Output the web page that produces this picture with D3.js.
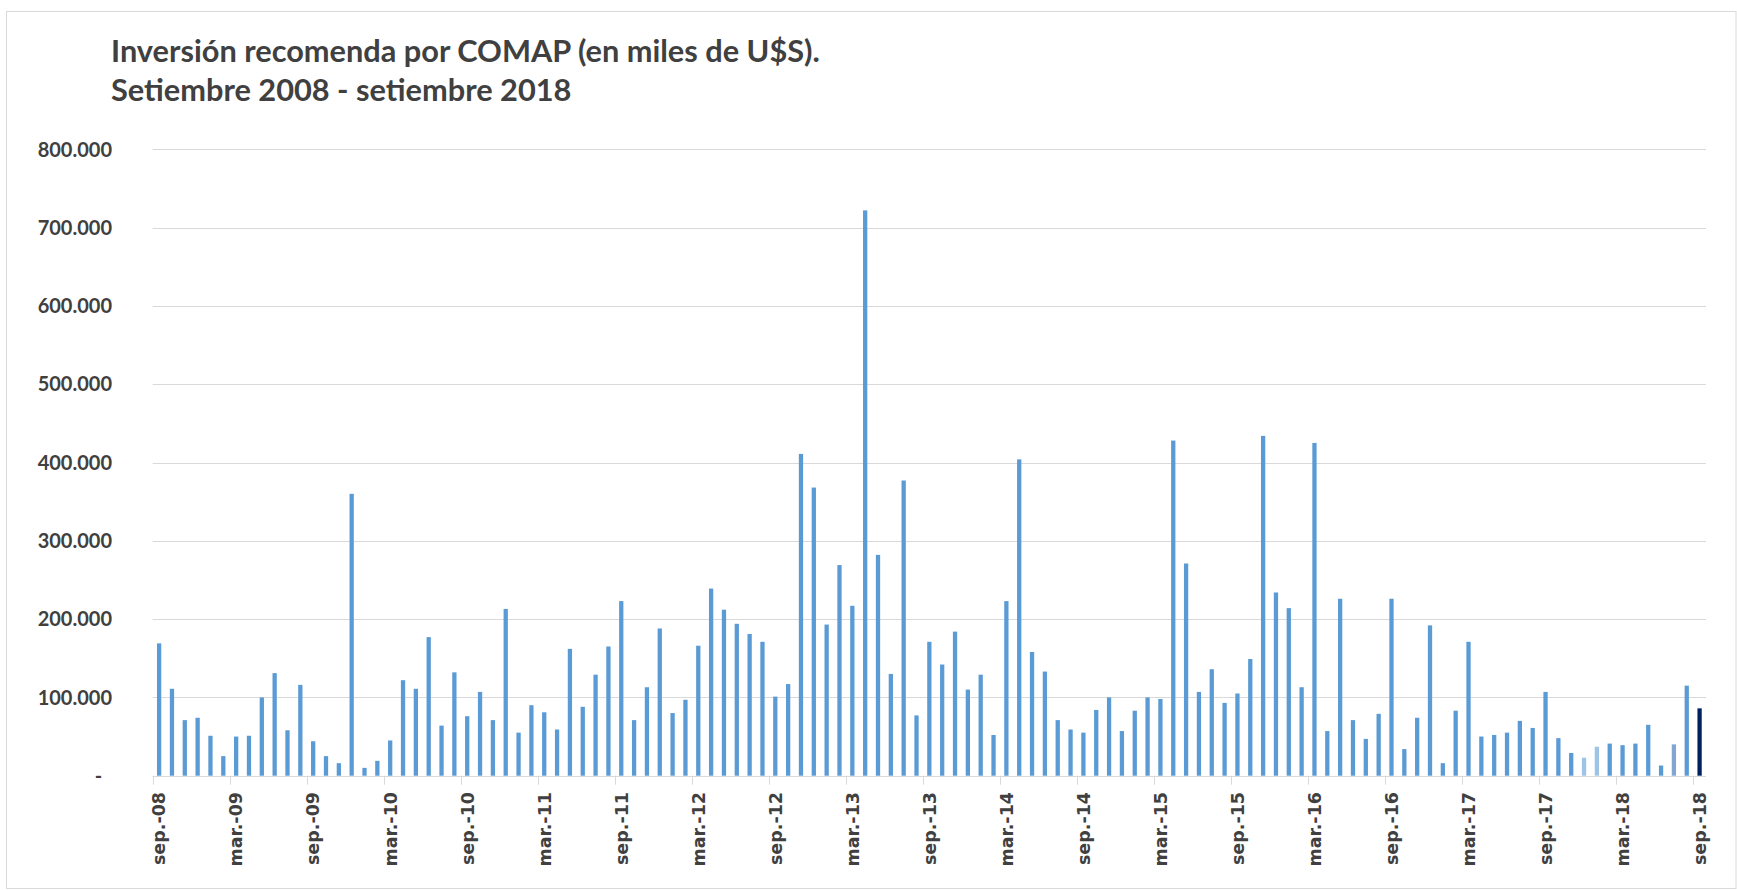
<!DOCTYPE html>
<meta charset="utf-8">

<style>
    body {
        margin: 0;
        background: #fff;
    }
    .grid line {
        stroke: #d9d9d9;
        stroke-width: 1px;
    }
    .title {
        font-family: Lato, "Open Sans", sans-serif;
        font-weight: bold;
        fill: #404040;
    }
    .ylab {
        font: bold 20px Lato, sans-serif;
        fill: #404040;
    }
    .xlab {
        font: bold 17.5px "DejaVu Sans", sans-serif;
        fill: #404040;
    }
</style>

<body>
<script src="https://cdn.jsdelivr.net/npm/d3@7"></script>
<script>

    // monthly values, sep-08 .. sep-18 (miles de U$S)
    var valores = [
        169000, 111000, 71000, 74000, 51000, 25000, 50000, 51000, 100000, 131000, 58000, 116000,
        44000, 25000, 16000, 360000, 10000, 19000, 45000, 122000, 111000, 177000, 64000, 132000,
        76000, 107000, 71000, 213000, 55000, 90000, 81000, 59000, 162000, 88000, 129000, 165000,
        223000, 71000, 113000, 188000, 80000, 97000, 166000, 239000, 212000, 194000, 181000, 171000,
        101000, 117000, 411000, 368000, 193000, 269000, 217000, 722000, 282000, 130000, 377000, 77000,
        171000, 142000, 184000, 110000, 129000, 52000, 223000, 404000, 158000, 133000, 71000, 59000,
        55000, 84000, 100000, 57000, 83000, 100000, 98000, 428000, 271000, 107000, 136000, 93000,
        105000, 149000, 434000, 234000, 214000, 113000, 425000, 57000, 226000, 71000, 47000, 79000,
        226000, 34000, 74000, 192000, 16000, 83000, 171000, 50000, 52000, 55000, 70000, 61000,
        107000, 48000, 29000, 23000, 37000, 41000, 39000, 41000, 65000, 13000, 40000, 115000,
        86000
    ];

    var meses = ["ene.", "feb.", "mar.", "abr.", "may.", "jun.", "jul.", "ago.", "sep.", "oct.", "nov.", "dic."];
    var yTicks = [0, 100000, 200000, 300000, 400000, 500000, 600000, 700000, 800000];
    var titulo = ["Inversión recomenda por COMAP (en miles de U$S).", "Setiembre 2008 - setiembre 2018"];

    // bars with a different fill (by index)
    var colorEspecial = {111: "#9dc3e6", 112: "#9dc3e6", 118: "#82a6cf", 120: "#002060"};

    // category labels: sep.-08, oct.-08 ...
    var categorias = valores.map(function(d, i) {
        var m = (8 + i) % 12;
        var a = 8 + Math.floor((8 + i) / 12);
        return meses[m] + "-" + (a < 10 ? "0" + a : a);
    });

    var W = 1737, H = 890;
    var plot = {left: 152.7, right: 1706, top: 149.3, bottom: 775.7};

    var svg = d3.select("body").append("svg")
        .attr("width", W)
        .attr("height", H);

    svg.append("rect")
        .attr("x", 6.5).attr("y", 11.5)
        .attr("width", W - 7.5).attr("height", H - 13)
        .attr("fill", "#fff")
        .attr("stroke", "#d9d9d9");

    // title, sized to match the original width
    var t1 = svg.append("text").attr("class", "title")
        .attr("x", 111).attr("y", 62)
        .style("font-size", "28px")
        .text(titulo[0]);
    var k = 709 / t1.node().getComputedTextLength();
    var fs = 28 * k;
    t1.style("font-size", fs + "px");
    svg.append("text").attr("class", "title")
        .attr("x", 111).attr("y", 101)
        .style("font-size", fs + "px")
        .text(titulo[1]);

    var x = d3.scaleBand()
        .domain(categorias)
        .range([plot.left, plot.right])
        .paddingInner(2 / 3)
        .paddingOuter(1 / 3);
    var step = x.step();

    var y = d3.scaleLinear()
        .domain([0, 800000])
        .range([plot.bottom, plot.top]);

    // gridlines
    svg.append("g").attr("class", "grid")
        .selectAll("line")
        .data(yTicks)
        .enter().append("line")
        .attr("x1", plot.left).attr("x2", plot.right)
        .attr("y1", function(d) { return Math.round(y(d)) + 0.5; })
        .attr("y2", function(d) { return Math.round(y(d)) + 0.5; });

    // y labels (accounting style: zero as "-")
    var fmt = d3.formatLocale({decimal: ",", thousands: ".", grouping: [3], currency: ["", ""]}).format(",.0f");
    svg.append("g")
        .selectAll("text")
        .data(yTicks)
        .enter().append("text")
        .attr("class", "ylab")
        .attr("x", function(d) { return d === 0 ? 98.5 : 112; })
        .attr("y", function(d) { return y(d); })
        .attr("dy", "0.36em")
        .attr("text-anchor", function(d) { return d === 0 ? "middle" : "end"; })
        .text(function(d) { return d === 0 ? "-" : fmt(d); });

    // bars
    svg.append("g")
        .selectAll("rect")
        .data(valores)
        .enter().append("rect")
        .attr("x", function(d, i) { return x(categorias[i]); })
        .attr("width", x.bandwidth())
        .attr("y", function(d) { return y(d); })
        .attr("height", function(d) { return y(0) - y(d); })
        .attr("fill", function(d, i) { return colorEspecial[i] || "#5b9bd5"; });

    // x axis: ticks every 6 months at left edge of category
    var etiquetas = categorias.filter(function(d, i) { return i % 6 === 0; });
    var ax = svg.append("g").attr("class", "grid");
    ax.append("line")
        .attr("x1", plot.left).attr("x2", plot.right)
        .attr("y1", Math.round(plot.bottom) + 0.5).attr("y2", Math.round(plot.bottom) + 0.5);
    ax.selectAll(".tick")
        .data(etiquetas)
        .enter().append("line")
        .attr("class", "tick")
        .attr("x1", function(d) { return Math.round(x(d) - step / 3) + 0.5; })
        .attr("x2", function(d) { return Math.round(x(d) - step / 3) + 0.5; })
        .attr("y1", plot.bottom)
        .attr("y2", plot.bottom + 9);

    svg.append("g")
        .selectAll("text")
        .data(etiquetas)
        .enter().append("text")
        .attr("class", "xlab")
        .attr("text-anchor", "end")
        .attr("transform", function(d) {
            return "translate(" + (x(d) + x.bandwidth() / 2) + "," + 792 + ")rotate(-90)";
        })
        .attr("dy", "0.36em")
        .text(function(d) { return d; });

</script>
</body>
